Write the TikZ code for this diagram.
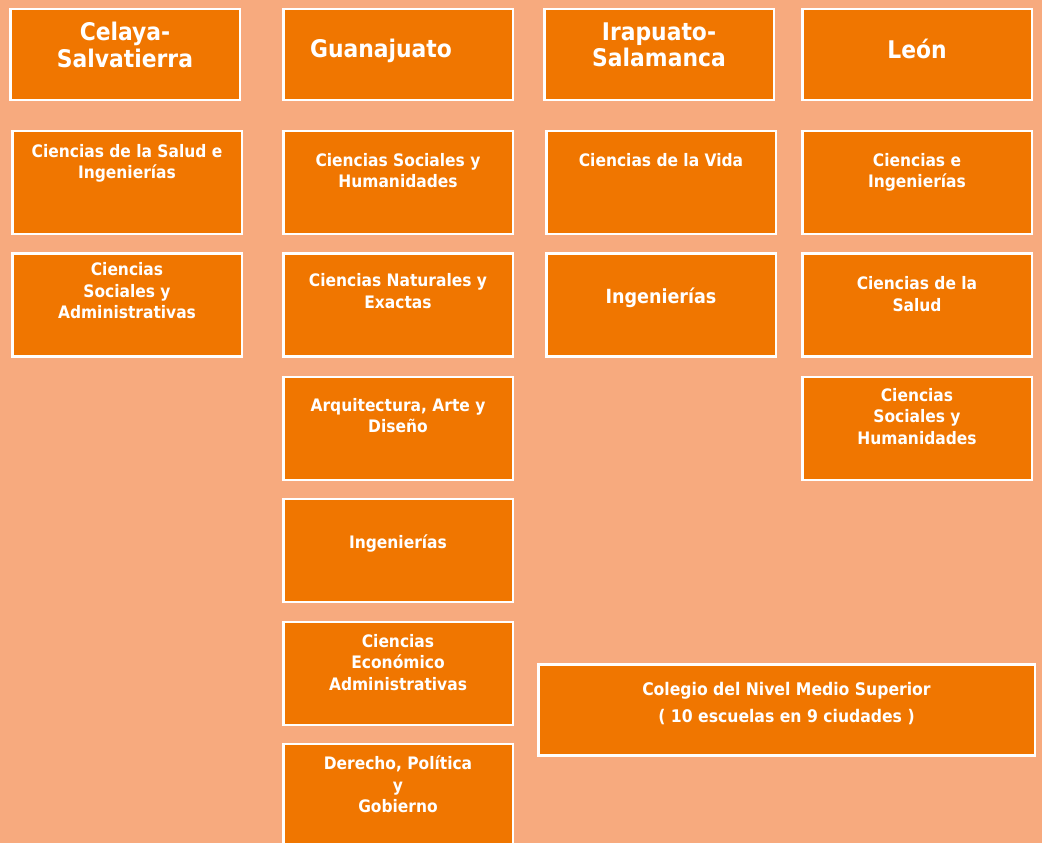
\documentclass[tikz,border=0pt]{standalone}
\usepackage{fontspec}
\setmainfont{DejaVu Sans Condensed}
\usetikzlibrary{positioning}

\definecolor{salmon}{RGB}{247,170,126}
\definecolor{naranja}{RGB}{240,118,0}

\tikzset{
    campus/.style={draw=white, fill=naranja, line width=2.5pt, minimum width=229.5pt, minimum height=91pt, inner sep=0pt},
    unidad/.style={campus, minimum height=103pt},
    cabeza/.style={text=white, font=\bfseries\fontsize{24.3}{26.5}\selectfont, align=center, inner sep=0pt, anchor=north},
    lbl/.style={text=white, font=\bfseries\fontsize{17.2}{21.5}\selectfont, align=center, inner sep=0pt, anchor=north},
}

\begin{document}
\begin{tikzpicture}[x=1pt, y=-1pt]
    \useasboundingbox (0,0) rectangle (1042,843);
    \fill[salmon] (0,0) rectangle (1042,843);

    % campus
    \node[campus] (cel) at (125,54.5) {};
    \node[campus] (gto) at (398,54.5) {};
    \node[campus] (ira) at (659,54.5) {};
    \node[campus] (leo) at (917,54.5) {};

    \node[cabeza, below=14.5pt of cel.north] {Celaya-\\Salvatierra};
    \node[cabeza, below=31.5pt of gto.north, xshift=-17pt] {Guanajuato};
    \node[cabeza, below=14.5pt of ira.north] {Irapuato-\\Salamanca};
    \node[cabeza, below=31.5pt of leo.north] {León};

    % divisiones
    \node[unidad] (cel1) at (127,182.5) {};
    \node[unidad] (cel2) at (127,305) {};

    \node[unidad] (gto1) at (398,182.5) {};
    \node[unidad] (gto2) at (398,305) {};
    \node[unidad] (gto3) at (398,428.5) {};
    \node[unidad] (gto4) at (398,550.5) {};
    \node[unidad] (gto5) at (398,673.5) {};
    \node[unidad] (gto6) at (398,795.5) {};

    \node[unidad] (ira1) at (661,182.5) {};
    \node[unidad] (ira2) at (661,305) {};

    \node[unidad] (leo1) at (917,182.5) {};
    \node[unidad] (leo2) at (917,305) {};
    \node[unidad] (leo3) at (917,428.5) {};

    \node[campus, minimum width=496.5pt] (cnms) at (786.5,710) {};

    \node[lbl, below=14pt of cel1.north] {Ciencias de la Salud e\\Ingenierías};
    \node[lbl, below=10pt of cel2.north] {Ciencias\\Sociales y\\Administrativas};

    \node[lbl, below=23pt of gto1.north] {Ciencias Sociales y\\Humanidades};
    \node[lbl, below=21pt of gto2.north] {Ciencias Naturales y\\Exactas};
    \node[lbl, below=22pt of gto3.north] {Arquitectura, Arte y\\Diseño};
    \node[lbl, below=37pt of gto4.north] {Ingenierías};
    \node[lbl, below=13pt of gto5.north] {Ciencias\\Económico\\Administrativas};
    \node[lbl, below=13pt of gto6.north] {Derecho, Política\\y\\Gobierno};

    \node[lbl, below=23pt of ira1.north] {Ciencias de la Vida};
    \node[lbl, below=35.5pt of ira2.north, font=\bfseries\fontsize{19.5}{21.5}\selectfont] {Ingenierías};

    \node[lbl, below=23pt of leo1.north] {Ciencias e\\Ingenierías};
    \node[lbl, below=24pt of leo2.north] {Ciencias de la\\Salud};
    \node[lbl, below=12pt of leo3.north] {Ciencias\\Sociales y\\Humanidades};

    \node[lbl, below=19pt of cnms.north, font=\bfseries\fontsize{17.4}{27}\selectfont] {Colegio del Nivel Medio Superior\\( 10 escuelas en 9 ciudades )};

\end{tikzpicture}
\end{document}
